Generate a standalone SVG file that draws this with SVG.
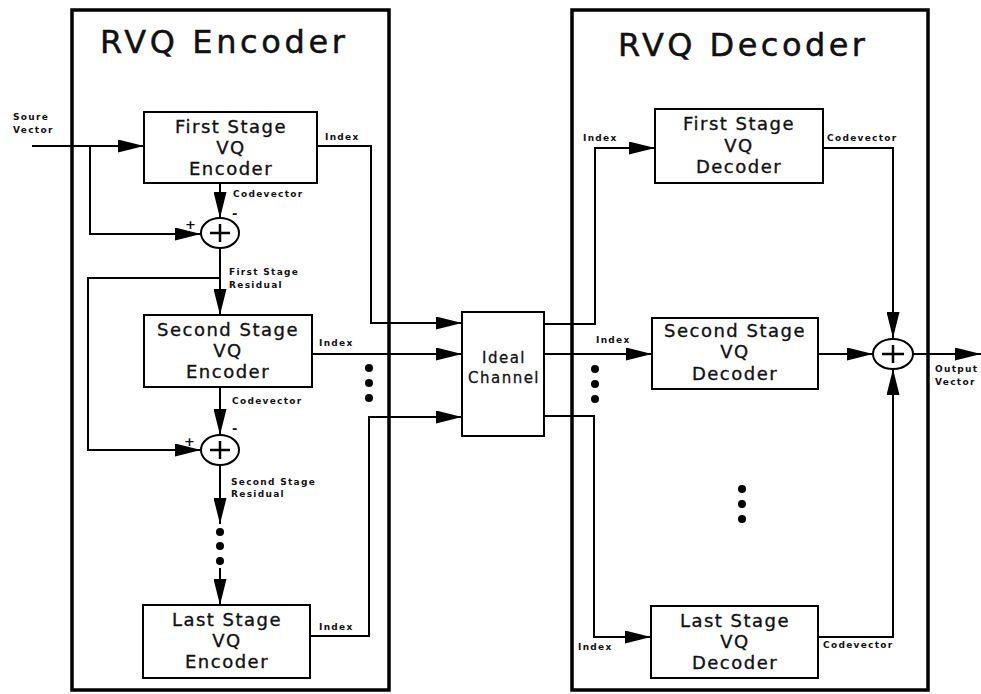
<svg xmlns="http://www.w3.org/2000/svg" width="981" height="694" viewBox="0 0 981 694">
<defs>
<marker id="arr" markerUnits="userSpaceOnUse" markerWidth="26" markerHeight="13" refX="26" refY="6.5" orient="auto">
<path d="M0,0 L26,6.5 L0,13 z" fill="#000"/>
</marker>
<style>
text{font-family:"DejaVu Sans","Verdana",sans-serif;fill:#111}
.title{font-size:32px;stroke:#111;stroke-width:0.5}
.box{font-size:18px;letter-spacing:1.5px;text-anchor:middle;stroke:#111;stroke-width:0.35}
.ch{font-size:15px;letter-spacing:1.5px;text-anchor:middle;stroke:#111;stroke-width:0.3}
.sm{font-size:9px;letter-spacing:1.3px;font-weight:bold}
.sg{font-size:13px;font-weight:bold}
.frame{fill:none;stroke:#000;stroke-width:3.5}
.node rect{fill:#fff;stroke:#000;stroke-width:2}
.sum ellipse{fill:#fff;stroke:#000;stroke-width:2}
.sum path{stroke:#000;stroke-width:2.5;fill:none}
.wire{fill:none;stroke:#000;stroke-width:2}
.dot{fill:#000}
</style>
</defs>
<rect width="981" height="694" fill="#fff"/>

<!-- outer frames -->
<g id="encoder-frame">
<rect class="frame" x="72" y="10" width="317" height="680"/>
<text class="title" x="100" y="53" textLength="245" lengthAdjust="spacing">RVQ Encoder</text>
</g>
<g id="decoder-frame">
<rect class="frame" x="572" y="10" width="356" height="680"/>
<text class="title" x="618" y="56" textLength="247" lengthAdjust="spacing">RVQ Decoder</text>
</g>

<!-- connectors -->
<g id="connectors">
<path class="wire" d="M32,146 H144" marker-end="url(#arr)"/>
<path class="wire" d="M90,146 V234 H201" marker-end="url(#arr)"/>
<path class="wire" d="M220,183 V218" marker-end="url(#arr)"/>
<path class="wire" d="M220,248 V315" marker-end="url(#arr)"/>
<path class="wire" d="M220,278 H88 V450 H201" marker-end="url(#arr)"/>
<path class="wire" d="M220,387 V435" marker-end="url(#arr)"/>
<path class="wire" d="M220,465 V524" marker-end="url(#arr)"/>
<path class="wire" d="M220,568 V605" marker-end="url(#arr)"/>
<path class="wire" d="M317,146 H371 V323 H462" marker-end="url(#arr)"/>
<path class="wire" d="M312,354 H462" marker-end="url(#arr)"/>
<path class="wire" d="M310,636 H369 V417 H462" marker-end="url(#arr)"/>
<path class="wire" d="M544,324 H595 V148 H655" marker-end="url(#arr)"/>
<path class="wire" d="M544,354 H652" marker-end="url(#arr)"/>
<path class="wire" d="M544,416 H594 V637 H651" marker-end="url(#arr)"/>
<path class="wire" d="M823,148 H893 V338" marker-end="url(#arr)"/>
<path class="wire" d="M818,354 H873" marker-end="url(#arr)"/>
<path class="wire" d="M818,637 H893 V369" marker-end="url(#arr)"/>
<path class="wire" d="M913,354 H981" marker-end="url(#arr)"/>
<circle class="dot" cx="220" cy="532" r="4"/>
<circle class="dot" cx="220" cy="546" r="4"/>
<circle class="dot" cx="220" cy="561" r="4"/>
<circle class="dot" cx="369" cy="368" r="4"/>
<circle class="dot" cx="369" cy="383" r="4"/>
<circle class="dot" cx="369" cy="398" r="4"/>
<circle class="dot" cx="595" cy="369" r="4"/>
<circle class="dot" cx="595" cy="384" r="4"/>
<circle class="dot" cx="595" cy="399" r="4"/>
<circle class="dot" cx="742" cy="489" r="4"/>
<circle class="dot" cx="742" cy="504" r="4"/>
<circle class="dot" cx="742" cy="519" r="4"/>
<text class="sm" x="13" y="120">Soure</text>
<text class="sm" x="13" y="133">Vector</text>
<text class="sm" x="325" y="140">Index</text>
<text class="sm" x="233" y="197">Codevector</text>
<text class="sm" x="229" y="275">First Stage</text>
<text class="sm" x="229" y="288">Residual</text>
<text class="sm" x="319" y="346">Index</text>
<text class="sm" x="232" y="404">Codevector</text>
<text class="sm" x="231" y="485">Second Stage</text>
<text class="sm" x="231" y="497">Residual</text>
<text class="sm" x="319" y="630">Index</text>
<text class="sm" x="583" y="141">Index</text>
<text class="sm" x="827" y="141">Codevector</text>
<text class="sm" x="596" y="343">Index</text>
<text class="sm" x="578" y="650">Index</text>
<text class="sm" x="823" y="648">Codevector</text>
<text class="sm" x="935" y="372">Output</text>
<text class="sm" x="935" y="385">Vector</text>
<text class="sg" x="232" y="218">-</text>
<text class="sg" x="185" y="229">+</text>
<text class="sg" x="232" y="433">-</text>
<text class="sg" x="184" y="446">+</text>
</g>

<!-- nodes -->
<g id="enc1" class="node">
<rect x="144" y="112" width="173" height="71"/>
<text class="box" x="231" y="133">First Stage</text>
<text class="box" x="231" y="154">VQ</text>
<text class="box" x="231" y="175">Encoder</text>
</g>
<g id="sum1" class="sum">
<ellipse cx="220" cy="233" rx="19" ry="15"/>
<path d="M210,233 H230 M220,224 V242"/>
</g>
<g id="enc2" class="node">
<rect x="144" y="315" width="168" height="72"/>
<text class="box" x="228" y="336">Second Stage</text>
<text class="box" x="228" y="357">VQ</text>
<text class="box" x="228" y="378">Encoder</text>
</g>
<g id="sum2" class="sum">
<ellipse cx="220" cy="450" rx="19" ry="15"/>
<path d="M210,450 H230 M220,441 V459"/>
</g>
<g id="enc3" class="node">
<rect x="143" y="605" width="167" height="73"/>
<text class="box" x="227" y="626">Last Stage</text>
<text class="box" x="227" y="647">VQ</text>
<text class="box" x="227" y="668">Encoder</text>
</g>
<g id="channel" class="node">
<rect x="462" y="312" width="82" height="124"/>
<text class="ch" x="504" y="363">Ideal</text>
<text class="ch" x="504" y="383">Channel</text>
</g>
<g id="dec1" class="node">
<rect x="655" y="109" width="168" height="74"/>
<text class="box" x="739" y="130">First Stage</text>
<text class="box" x="739" y="152">VQ</text>
<text class="box" x="739" y="173">Decoder</text>
</g>
<g id="dec2" class="node">
<rect x="652" y="318" width="166" height="71"/>
<text class="box" x="735" y="337">Second Stage</text>
<text class="box" x="735" y="358">VQ</text>
<text class="box" x="735" y="380">Decoder</text>
</g>
<g id="dec3" class="node">
<rect x="651" y="606" width="167" height="72"/>
<text class="box" x="735" y="627">Last Stage</text>
<text class="box" x="735" y="648">VQ</text>
<text class="box" x="735" y="669">Decoder</text>
</g>
<g id="sum3" class="sum">
<ellipse cx="893" cy="354" rx="20" ry="15"/>
<path d="M882,354 H904 M893,345 V363"/>
</g>
</svg>
